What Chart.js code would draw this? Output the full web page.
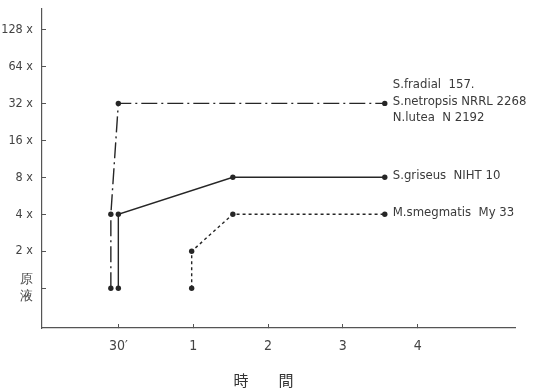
<!DOCTYPE html>
<html>
<head>
<meta charset="utf-8">
<script src="https://cdn.jsdelivr.net/npm/chart.js@4"></script>
<style>
  body { margin: 0; background: #fff; }
  #wrap { width: 535px; height: 390px; }
</style>
</head>
<body>
<div id="wrap"><canvas id="myChart" width="535" height="390"></canvas></div>
<script>
// time axis: 30' sits one step before the 1 h mark
const xTickValues = [0, 1, 2, 3, 4];
const xTickLabels = ["30′", "1", "2", "3", "4"];

const yTickValues = [1, 2, 4, 8, 16, 32, 64, 128];
const yTickLabels = [["原", "液"], "2 x", "4 x", "8 x", "16 x", "32 x", "64 x", "128 x"];

// S.fradial / S.netropsis / N.lutea
const fradialX = [-0.1, -0.1, 0, 3.56];
const fradialY = [1, 4, 32, 32];
// S.griseus
const griseusX = [0, 0, 1.53, 3.56];
const griseusY = [1, 4, 8, 8];
// M.smegmatis
const smegX = [0.98, 0.98, 1.53, 3.56];
const smegY = [1, 2, 4, 4];

const seriesNames = [
  ["S.fradial  157.", "S.netropsis NRRL 2268", "N.lutea  N 2192"],
  ["S.griseus  NIHT 10"],
  ["M.smegmatis  My 33"]
];

const ink = '#262626';
const narrow = '"Liberation Sans Narrow", "DejaVu Sans Condensed", sans-serif';

function pts(xs, ys) {
  return xs.map((x, i) => ({ x: x, y: ys[i] }));
}

function makeSet(xs, ys, dash) {
  return {
    data: pts(xs, ys),
    showLine: true,
    borderColor: ink,
    backgroundColor: ink,
    borderWidth: 1.4,
    borderDash: dash,
    pointRadius: 2.7,
    pointBorderWidth: 0,
    tension: 0
  };
}

// writes the strain names to the right of each series' last point
const endLabels = {
  id: 'endLabels',
  afterDatasetsDraw(chart) {
    const ctx = chart.ctx;
    ctx.save();
    ctx.fillStyle = '#3a3a3a';
    ctx.font = '13px ' + narrow;
    ctx.textAlign = 'left';
    ctx.textBaseline = 'middle';
    chart.data.datasets.forEach((ds, i) => {
      const meta = chart.getDatasetMeta(i);
      const last = meta.data[meta.data.length - 1];
      const lines = seriesNames[i];
      const lh = 16.5;
      const y0 = last.y - 2 - (lines.length - 1) * lh / 2;
      lines.forEach((t, j) => ctx.fillText(t, last.x + 8, y0 + j * lh));
    });
    ctx.restore();
  }
};

new Chart(document.getElementById('myChart'), {
  type: 'scatter',
  data: {
    datasets: [
      makeSet(fradialX, fradialY, [16, 4, 2, 4]),
      makeSet(griseusX, griseusY, []),
      makeSet(smegX, smegY, [3, 3])
    ]
  },
  options: {
    responsive: false,
    animation: false,
    devicePixelRatio: 1,
    layout: { padding: { left: 0, top: 9, right: 20, bottom: 0 } },
    plugins: {
      legend: { display: false },
      tooltip: { enabled: false }
    },
    scales: {
      x: {
        type: 'linear',
        min: -1.02,
        max: 5.3,
        afterFit: s => { s.height = 62; s.paddingLeft = 0; s.paddingRight = 0; },
        afterBuildTicks: s => { s.ticks = xTickValues.map(v => ({ value: v })); },
        border: { display: true, color: '#555', width: 1.2 },
        grid: { display: true, drawOnChartArea: false, drawTicks: true, tickLength: -4, color: '#555' },
        ticks: {
          padding: 14,
          color: '#444',
          font: { family: narrow, size: 14 },
          maxRotation: 0,
          callback: (v, i) => xTickLabels[i]
        },
        title: {
          display: true,
          text: '時　　間　　',
          color: '#333',
          font: { family: '"Noto Sans CJK JP", sans-serif', size: 15 },
          padding: { top: 0, bottom: 1 }
        }
      },
      y: {
        type: 'logarithmic',
        min: 0.474,
        max: 188,
        afterFit: s => { s.width = 42; s.paddingTop = 0; s.paddingBottom = 0; },
        afterBuildTicks: s => { s.ticks = yTickValues.map(v => ({ value: v })); },
        border: { display: true, color: '#555', width: 1.2 },
        grid: { display: true, drawOnChartArea: false, drawTicks: true, tickLength: -4, color: '#555' },
        ticks: {
          padding: 13,
          color: '#444',
          font: { family: narrow, size: 12.5, lineHeight: 1.35 },
          callback: (v, i) => yTickLabels[i]
        }
      }
    }
  },
  plugins: [endLabels]
});
</script>
</body>
</html>
